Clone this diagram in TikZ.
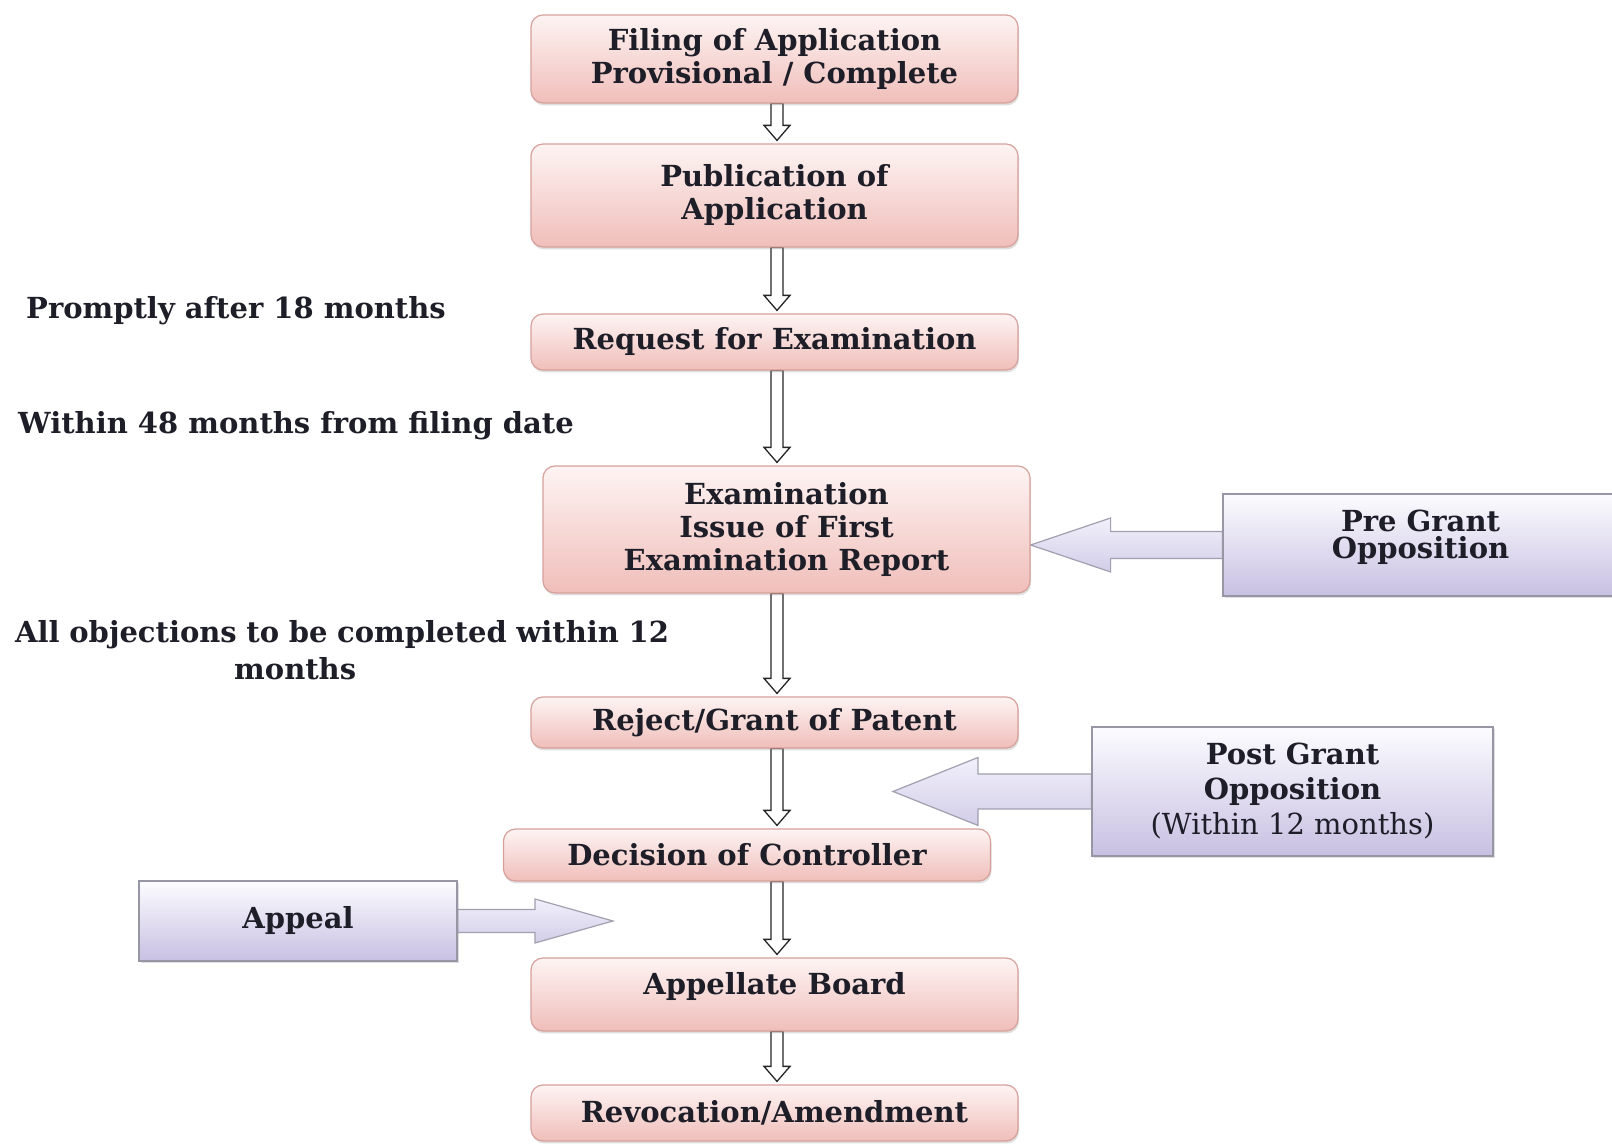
\documentclass[tikz,border=0pt]{standalone}
\usepackage{fontspec}
\setmainfont{DejaVu Serif}
\usetikzlibrary{calc,shadows,backgrounds}
\definecolor{ink}{RGB}{30,30,40}
\definecolor{stageline}{RGB}{214,160,155}
\definecolor{stagetop}{RGB}{253,244,243}
\definecolor{stagebot}{RGB}{240,190,186}
\definecolor{sideline}{RGB}{150,150,165}
\definecolor{sidetop}{RGB}{252,252,255}
\definecolor{sidebot}{RGB}{200,192,226}
\definecolor{arrline}{RGB}{160,160,175}
\definecolor{arrtop}{RGB}{242,240,251}
\definecolor{arrbot}{RGB}{210,205,232}
\tikzset{
  stage/.style={draw=stageline,line width=1.2pt,rounded corners=12pt,
                top color=stagetop,bottom color=stagebot,minimum width=487pt,
                align=center,inner sep=0pt,text=ink,
                font=\bfseries\fontsize{29}{33}\selectfont,
                drop shadow={shadow xshift=1pt,shadow yshift=-2.5pt,opacity=0.25}},
  side/.style={draw=sideline,line width=1.2pt,top color=sidetop,bottom color=sidebot,
               align=center,inner sep=0pt,text=ink,
               font=\bfseries\fontsize{29}{35}\selectfont,
               drop shadow={shadow xshift=1.5pt,shadow yshift=-2.5pt,opacity=0.25}},
  note/.style={font=\bfseries\fontsize{29}{37}\selectfont,text=ink,inner sep=0pt},
  downarr/.style={draw=black!85,line width=1.3pt,fill=white},
  blockarr/.style={draw=arrline,line width=1.2pt,top color=arrtop,bottom color=arrbot},
}
% hollow arrow down the main column, from one stage to the next
\newcommand{\stagearrow}[2]{%
  \draw[downarr] let \p1=(axis |- #1.south), \p2=(axis |- #2.north) in
    ({\x1-6},\y1) -- ({\x1-6},{\y2+18}) -- ({\x1-13},{\y2+18}) -- (\x1,{\y2+3})
    -- ({\x1+13},{\y2+18}) -- ({\x1+6},{\y2+18}) -- ({\x1+6},\y1) -- cycle;}
% block arrow: from, tip, half shaft, half head, head length (signed)
\newcommand{\sidearrow}[5]{%
  \draw[blockarr] let \p1=(#1), \p2=(#2) in
    (\x1,{\y1+#3}) -- ({\x2+#5},{\y1+#3}) -- ({\x2+#5},{\y1+#4}) -- (\x2,\y1)
    -- ({\x2+#5},{\y1-#4}) -- ({\x2+#5},{\y1-#3}) -- (\x1,{\y1-#3}) -- cycle;}
\begin{document}
\begin{tikzpicture}[x=1pt,y=1pt]
  \useasboundingbox (0,0) rectangle (1612,1145);
  \coordinate (axis) at (777,0);
  % main column
  \node[stage,minimum height=88pt] (filing) at (774.5,1086) {Filing of Application\\Provisional / Complete};
  \node[stage,minimum height=103pt] (pub) at (774.5,949.5) {Publication of\\Application};
  \node[stage,minimum height=56pt] (req) at (774.5,803) {Request for Examination};
  \node[stage,minimum height=127pt] (exam) at (786.5,615.5) {Examination\\Issue of First\\Examination Report};
  \node[stage,minimum height=51pt] (reject) at (774.5,422.5) {Reject/Grant of Patent};
  \node[stage,minimum height=52pt] (decision) at (747,290) {Decision of Controller};
  \node[stage,minimum height=73pt,text depth=23pt] (appellate) at (774.5,150.5) {Appellate Board};
  \node[stage,minimum height=56pt] (revocation) at (774.5,32) {Revocation/Amendment};
  % side boxes
  \node[side,minimum width=395pt,minimum height=102pt,text depth=21pt,font=\bfseries\fontsize{29}{27}\selectfont] (pre) at (1420.5,600) {Pre Grant\\Opposition};
  \node[side,minimum width=401pt,minimum height=129pt] (post) at (1292.5,353.5) {Post Grant\\Opposition\\\mdseries(Within 12 months)};
  \node[side,minimum width=318pt,minimum height=80pt] (appeal) at (298,224) {Appeal};
  \coordinate (posttip) at (893,353.5);
  \coordinate (appealtip) at (613,224);
  % time notes
  \node[note,anchor=west] (prompt) at (26,834) {Promptly after 18 months};
  \node[note,anchor=west] (within) at (18,719) {Within 48 months from filing date};
  \node[note,anchor=west,text width=560pt,align=center] (objections) at (15,494.5) {\mbox{All objections to be completed within 12}\\months};
  % connectors
  \begin{scope}[on background layer]
    \stagearrow{filing}{pub}
    \stagearrow{pub}{req}
    \stagearrow{req}{exam}
    \stagearrow{exam}{reject}
    \stagearrow{reject}{decision}
    \stagearrow{decision}{appellate}
    \stagearrow{appellate}{revocation}
    \sidearrow{pre.west}{exam.east}{13.5}{27}{80}
    \sidearrow{post.west}{posttip}{17.5}{34}{85}
    \sidearrow{appeal.east}{appealtip}{11.5}{22}{-78}
  \end{scope}
\end{tikzpicture}
\end{document}
